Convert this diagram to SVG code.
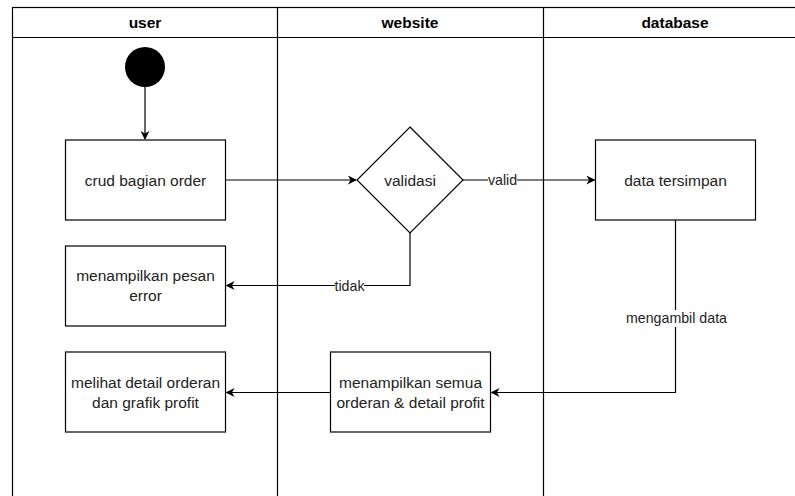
<svg xmlns="http://www.w3.org/2000/svg" width="795" height="496" viewBox="0 0 795 496">
<defs>
<style>
.lane{fill:none;stroke:#000;stroke-width:1.2}
.box{fill:#fff;stroke:#000;stroke-width:1.2}
.t{font-family:"Liberation Sans",Arial,sans-serif;font-size:15.5px;fill:#222;text-anchor:middle}
.h{font-family:"Liberation Sans",Arial,sans-serif;font-size:15.5px;font-weight:bold;fill:#000;text-anchor:middle}
.e{font-family:"Liberation Sans",Arial,sans-serif;font-size:14.2px;fill:#222;text-anchor:middle}
.c{fill:none;stroke:#000;stroke-width:1.2}
</style>
<marker id="arr" viewBox="0 0 10 10" refX="9" refY="5" markerWidth="9" markerHeight="9" markerUnits="userSpaceOnUse" orient="auto">
<path d="M0,0 L10,5 L0,10 L3,5 Z" fill="#000"/>
</marker>
</defs>
<rect width="795" height="496" fill="#fff"/>
<g id="lanes">
<rect class="lane" x="12.5" y="7.5" width="800" height="500"/>
<line class="lane" x1="12.5" y1="37.5" x2="812" y2="37.5"/>
<line class="lane" x1="277.5" y1="7.5" x2="277.5" y2="507"/>
<line class="lane" x1="543.5" y1="7.5" x2="543.5" y2="507"/>
<text class="h" x="145" y="28">user</text>
<text class="h" x="410" y="28">website</text>
<text class="h" x="675" y="28">database</text>
</g>
<g id="connectors">
<line class="c" x1="145" y1="87" x2="145" y2="139" marker-end="url(#arr)"/>
<line class="c" x1="225.5" y1="180" x2="356" y2="180" marker-end="url(#arr)"/>
<line class="c" x1="463" y1="180" x2="594.5" y2="180" marker-end="url(#arr)"/>
<polyline class="c" points="410,233 410,285.5 226.5,285.5" marker-end="url(#arr)"/>
<polyline class="c" points="675.5,220 675.5,392.5 491.5,392.5" marker-end="url(#arr)"/>
<line class="c" x1="330.5" y1="392.5" x2="226.5" y2="392.5" marker-end="url(#arr)"/>
<rect x="488" y="172" width="29" height="16" fill="#fff"/>
<text class="e" x="502.5" y="185">valid</text>
<rect x="335" y="278" width="29" height="16" fill="#fff"/>
<text class="e" x="349.5" y="291">tidak</text>
<rect x="625" y="310" width="103" height="17" fill="#fff"/>
<text class="e" x="676.5" y="323">mengambil data</text>
</g>
<g id="start"><circle cx="145" cy="67" r="20" fill="#000"/></g>
<g id="crud"><rect class="box" x="65.5" y="140" width="160" height="80"/><text class="t" x="145.5" y="185.5">crud bagian order</text></g>
<g id="validasi"><polygon class="box" points="410,127 463,180 410,233 357,180"/><text class="t" x="410" y="185.5">validasi</text></g>
<g id="tersimpan"><rect class="box" x="595.5" y="140" width="160" height="80"/><text class="t" x="675.5" y="185.5">data tersimpan</text></g>
<g id="error"><rect class="box" x="65.5" y="246" width="160" height="80"/><text class="t" x="145.5" y="281">menampilkan pesan</text><text class="t" x="145.5" y="301">error</text></g>
<g id="melihat"><rect class="box" x="65.5" y="352" width="160" height="80"/><text class="t" x="145.5" y="387.5">melihat detail orderan</text><text class="t" x="145.5" y="407.5">dan grafik profit</text></g>
<g id="semua"><rect class="box" x="330.5" y="352" width="160" height="80"/><text class="t" x="410.5" y="387.5">menampilkan semua</text><text class="t" x="410.5" y="407.5">orderan &amp; detail profit</text></g>
</svg>
